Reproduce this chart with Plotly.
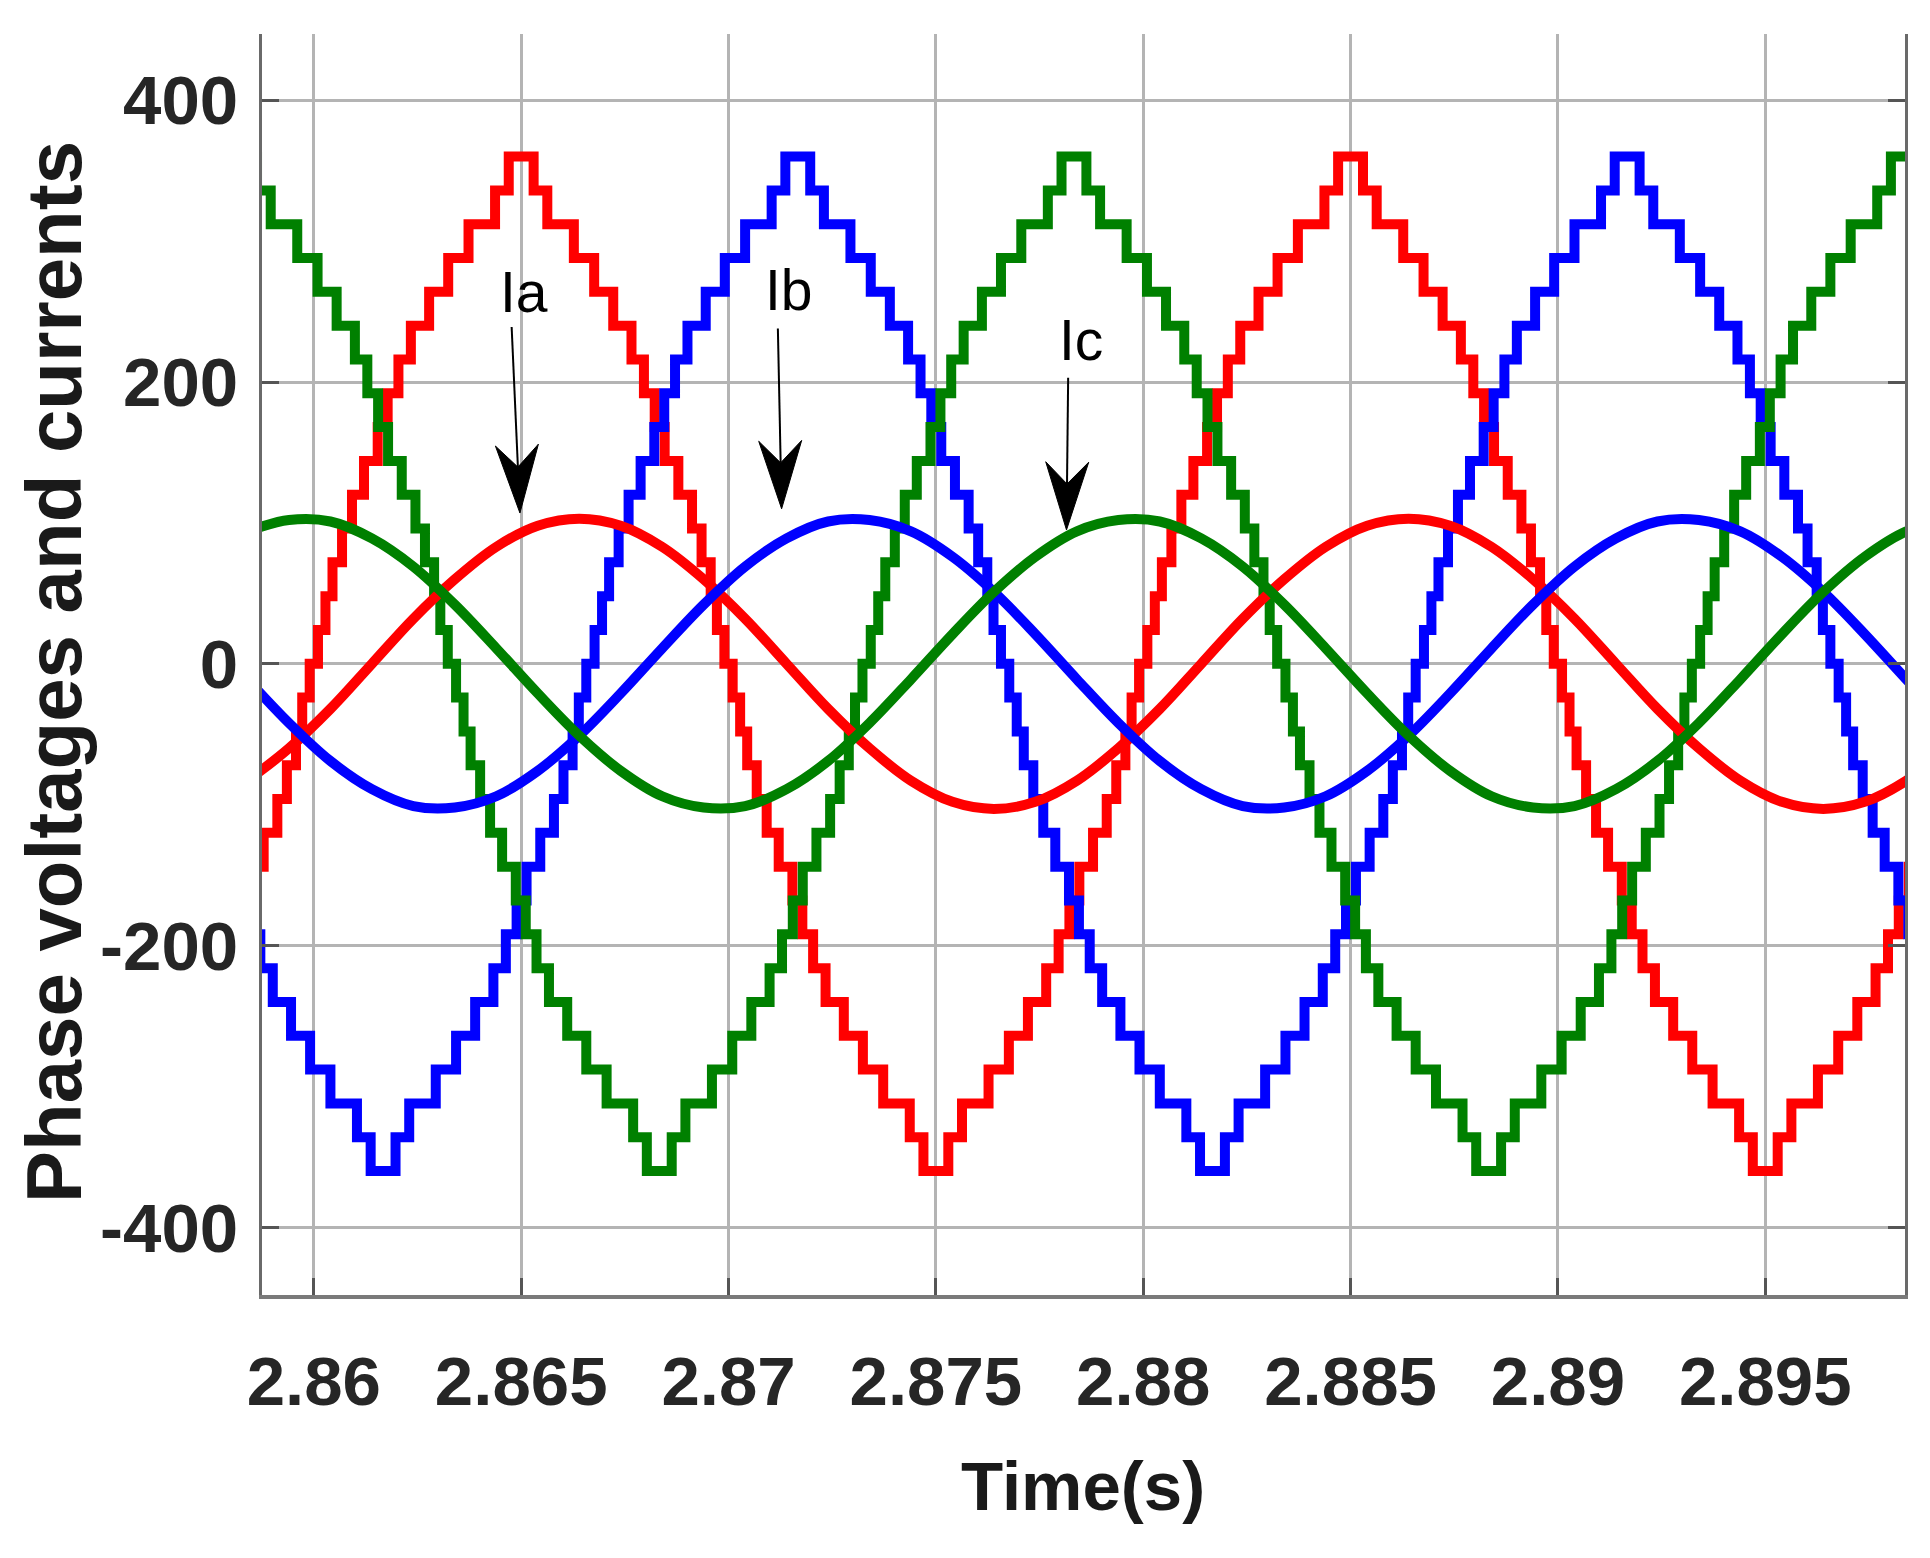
import plotly.graph_objects as go

# ---------------- data ----------------
# staircase phase voltages: one half-cycle
# (switching instants, ms after the positive peak centre, and the level after each switch)
SWITCH_MS = [0.30, 0.63, 1.27, 1.76, 2.22, 2.66, 2.96, 3.22, 3.46, 3.79, 4.12, 4.35, 4.57, 4.72, 4.90,
             5.10, 5.28, 5.45, 5.68, 5.92, 6.21, 6.54, 6.78, 7.04, 7.34, 7.78, 8.24, 8.73, 9.37, 9.70]
LEVELS = [360, 336, 312, 288, 264, 240, 216, 192, 168, 144, 120, 96, 72, 48, 24, 0,
          -24, -48, -72, -96, -120, -144, -168, -192, -216, -240, -264, -288, -312, -336, -360]
V_PEAK_TIME = {"Va": 2.8650, "Vb": 2.87167, "Vc": 2.87833}
HALF_PERIOD = 0.010

# load currents, sampled every 1 ms from the picture
T_CUR = [2.8584, 2.8594, 2.8604, 2.8614, 2.8624, 2.8634, 2.8644, 2.8654, 2.8664, 2.8674,
         2.8684, 2.8694, 2.8704, 2.8714, 2.8724, 2.8734, 2.8744, 2.8754, 2.8764, 2.8774,
         2.8784, 2.8794, 2.8804, 2.8814, 2.8824, 2.8834, 2.8844, 2.8854, 2.8864, 2.8874,
         2.8884, 2.8894, 2.8904, 2.8914, 2.8924, 2.8934, 2.8944, 2.8954, 2.8964, 2.8974,
         2.8984, 2.8994]
IA = [-83, -60, -32, 0, 32, 60, 83, 98, 103, 98,
      83, 60, 32, 0, -32, -60, -83, -98, -103, -98,
      -83, -60, -32, 0, 32, 60, 83, 98, 103, 98,
      83, 60, 32, 0, -32, -60, -83, -98, -103, -98,
      -83, -60]
IB = [-11, -42, -69, -89, -101, -102, -94, -76, -51, -21,
      11, 42, 69, 89, 101, 102, 94, 76, 51, 21,
      -11, -42, -69, -89, -101, -102, -94, -76, -51, -21,
      11, 42, 69, 89, 101, 102, 94, 76, 51, 21,
      -11, -42]
IC = [94, 102, 101, 89, 69, 42, 11, -21, -51, -76,
      -94, -102, -101, -89, -69, -42, -11, 21, 51, 76,
      94, 102, 101, 89, 69, 42, 11, -21, -51, -76,
      -94, -102, -101, -89, -69, -42, -11, 21, 51, 76,
      94, 102]

X_TICKS = [2.86, 2.865, 2.87, 2.875, 2.88, 2.885, 2.89, 2.895]
X_TICK_TEXT = ["2.86", "2.865", "2.87", "2.875", "2.88", "2.885", "2.89", "2.895"]
Y_TICKS = [-400, -200, 0, 200, 400]
Y_TICK_TEXT = ["-400", "-200", "0", "200", "400"]

# annotation arrows: (label, text centre t, text centre v, tail t, tail v, tip t, tip v)
ARROWS = [
    ("Ia", 2.86506, 264, 2.86477, 239, 2.86497, 107),
    ("Ib", 2.87146, 265, 2.87119, 238, 2.87128, 110),
    ("Ic", 2.87850, 230, 2.87819, 203, 2.87815, 95),
]

# ---------------- geometry ----------------
# the page body adds an 8 px margin; plot area is placed in page pixels
BODY = 8
W, H = 1930 - BODY, 1558 - BODY
PL, PR, PT, PB = 262, 1905, 34, 1295          # plot area in page pixels
X_RANGE = [2.85875, 2.89837]
Y_RANGE = [-448, 447]
PW, PH = PR - PL, PB - PT

COL = {"a": "#ff0000", "b": "#0000ff", "c": "#008000"}
SANS = "Liberation Sans, Arial, sans-serif"


def staircase(tp):
    xs, ys = [], []
    n0 = -2
    xs.append(tp + n0 * HALF_PERIOD)
    ys.append(LEVELS[0] * (1 if n0 % 2 == 0 else -1))
    for n in range(n0, 4):
        s = 1 if n % 2 == 0 else -1
        base = tp + n * HALF_PERIOD
        for sw, lv in zip(SWITCH_MS, LEVELS[1:]):
            xs.append(base + sw / 1000.0)
            ys.append(s * lv)
    return xs, ys


fig = go.Figure()
for key, c in zip(["Va", "Vb", "Vc"], ["a", "b", "c"]):
    xs, ys = staircase(V_PEAK_TIME[key])
    fig.add_trace(go.Scatter(x=xs, y=ys, mode="lines", name=key,
                             line=dict(color=COL[c], width=10, shape="hv")))
for name, vals, c in [("Ia", IA, "a"), ("Ib", IB, "b"), ("Ic", IC, "c")]:
    fig.add_trace(go.Scatter(x=T_CUR, y=vals, mode="lines", name=name,
                             line=dict(color=COL[c], width=10, shape="spline", smoothing=1.0)))


def px_to_data(px, py):
    t = X_RANGE[0] + (px - PL) / PW * (X_RANGE[1] - X_RANGE[0])
    v = Y_RANGE[1] - (py - PT) / PH * (Y_RANGE[1] - Y_RANGE[0])
    return t, v


def data_to_px(t, v):
    px = PL + (t - X_RANGE[0]) / (X_RANGE[1] - X_RANGE[0]) * PW
    py = PT + (Y_RANGE[1] - v) / (Y_RANGE[1] - Y_RANGE[0]) * PH
    return px, py


shapes, annotations = [], []
for label, lt, lv, t0, v0, t1, v1 in ARROWS:
    ax0, ay0 = data_to_px(t0, v0)
    ax1, ay1 = data_to_px(t1, v1)
    dx, dy = ax1 - ax0, ay1 - ay0
    L = (dx * dx + dy * dy) ** 0.5
    ux, uy = dx / L, dy / L
    nx, ny = -uy, ux
    head_len, notch, half_w = 68, 46, 21.5
    c1 = (ax1 - head_len * ux + half_w * nx, ay1 - head_len * uy + half_w * ny)
    c2 = (ax1 - head_len * ux - half_w * nx, ay1 - head_len * uy - half_w * ny)
    nt = (ax1 - notch * ux, ay1 - notch * uy)
    pts = [px_to_data(ax1, ay1), px_to_data(*c1), px_to_data(*nt), px_to_data(*c2)]
    path = "M {} {} L {} {} L {} {} L {} {} Z".format(*[f"{p:.6f}" for q in pts for p in q])
    st, sv = px_to_data(*nt)
    shapes.append(dict(type="line", xref="x", yref="y", x0=t0, y0=v0, x1=st, y1=sv,
                       line=dict(color="black", width=2), layer="above"))
    shapes.append(dict(type="path", xref="x", yref="y", path=path, fillcolor="black",
                       line=dict(color="black", width=1), layer="above"))
    annotations.append(dict(x=lt, y=lv, xref="x", yref="y", text=label, showarrow=False,
                            xanchor="center", yanchor="middle",
                            font=dict(family=SANS, size=57, color="black")))

annotations.append(dict(x=(54 - PL) / PW, y=(PB - 672) / PH, xref="paper", yref="paper",
                        text="Phase voltages and currents", showarrow=False, textangle=-90,
                        xanchor="center", yanchor="middle",
                        font=dict(family=SANS, size=78, color="#1a1a1a", weight="bold")))
annotations.append(dict(x=(1083 - PL) / PW, y=(PB - 1487) / PH, xref="paper", yref="paper",
                        text="Time(s)", showarrow=False, xanchor="center", yanchor="middle",
                        font=dict(family=SANS, size=69, color="#1a1a1a", weight="bold")))

tickfont = dict(family=SANS, size=69, color="#262626", weight="bold")
fig.update_layout(
    width=W, height=H,
    margin=dict(l=PL - BODY, r=W - (PR - BODY), t=PT - BODY, b=H - (PB - BODY)),
    paper_bgcolor="white", plot_bgcolor="white",
    showlegend=False,
    shapes=shapes, annotations=annotations,
    xaxis=dict(range=X_RANGE, tickvals=X_TICKS, ticktext=X_TICK_TEXT,
               showgrid=True, gridcolor="#b4b4b4", gridwidth=2.5, zeroline=False,
               showline=True, linecolor="#7a7a7a", linewidth=4, mirror=False,
               ticks="inside", ticklen=17, tickwidth=3, tickcolor="#555555",
               tickfont=tickfont, ticklabelstandoff=23),
    yaxis=dict(range=Y_RANGE, tickvals=Y_TICKS, ticktext=Y_TICK_TEXT,
               showgrid=True, gridcolor="#b4b4b4", gridwidth=2.5, zeroline=False,
               showline=True, linecolor="#6a6a6a", linewidth=3, mirror="ticks",
               ticks="inside", ticklen=17, tickwidth=3, tickcolor="#555555",
               tickfont=tickfont, ticklabelstandoff=7),
)

fig.write_html("out.html")
